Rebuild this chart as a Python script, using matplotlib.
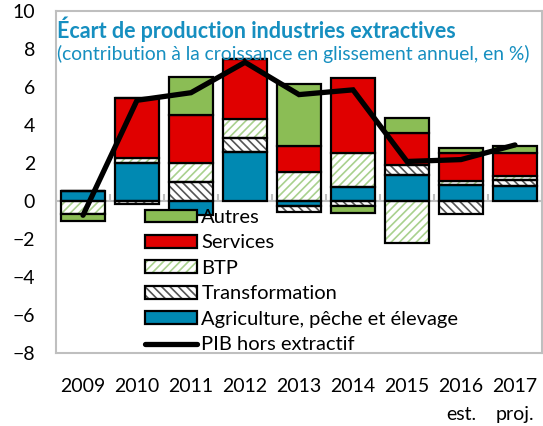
import matplotlib
matplotlib.use("Agg")
import matplotlib.pyplot as plt
from matplotlib.patches import Patch
from matplotlib.lines import Line2D
from matplotlib.legend_handler import HandlerTuple
import numpy as np

plt.rcParams['font.family'] = ['Lato', 'DejaVu Sans']
plt.rcParams['hatch.linewidth'] = 1.2

categories = ['2009', '2010', '2011', '2012', '2013', '2014', '2015', '2016\nest.', '2017\nproj.']
agriculture = [0.5, 2.0, -0.75, 2.6, -0.27, 0.72, 1.38, 0.85, 0.8]
transformation = [0.0, -0.15, 1.0, 0.7, -0.33, -0.27, 0.52, -0.68, 0.28]
btp = [-0.68, 0.27, 1.0, 1.0, 1.5, 1.78, -2.2, 0.22, 0.22]
services = [0.0, 3.13, 2.5, 3.15, 1.4, 3.95, 1.7, 1.45, 1.25]
autres = [-0.37, 0.0, 2.0, 0.0, 3.25, -0.35, 0.75, 0.25, 0.35]
pib_hors_extractif = [-0.75, 5.3, 5.7, 7.3, 5.6, 5.85, 2.08, 2.18, 2.95]

series = [
    ('Agriculture, pêche et élevage', agriculture),
    ('Transformation', transformation),
    ('BTP', btp),
    ('Services', services),
    ('Autres', autres),
]
styles = {
    'Agriculture, pêche et élevage': dict(color='#0089B2', hatch=None, hc=None),
    'Transformation': dict(color='white', hatch='\\\\\\\\', hc='#555555'),
    'BTP': dict(color='white', hatch='////', hc='#A9D18E'),
    'Services': dict(color='#E00000', hatch=None, hc=None),
    'Autres': dict(color='#8BBD55', hatch=None, hc=None),
}

W, H = 543, 426
fig = plt.figure(figsize=(W / 100, H / 100), dpi=100)
ax = fig.add_axes([56 / W, 1 - 353 / H, 486 / W, 342 / H])

x = np.arange(len(categories))
pos_base = np.zeros(len(categories))
neg_base = np.zeros(len(categories))
bw = 0.82
for name, vals in series:
    v = np.array(vals, dtype=float)
    bottoms = np.where(v >= 0, pos_base, neg_base)
    st = styles[name]
    if st['hatch']:
        ax.bar(x, v, bw, bottom=bottoms, color=st['color'], hatch=st['hatch'],
               edgecolor=st['hc'], linewidth=0, zorder=2)
        ax.bar(x, v, bw, bottom=bottoms, fill=False, edgecolor='black',
               linewidth=1.6, zorder=3)
    else:
        ax.bar(x, v, bw, bottom=bottoms, color=st['color'], edgecolor='black',
               linewidth=1.6, zorder=3)
    pos_base = pos_base + np.where(v >= 0, v, 0)
    neg_base = neg_base + np.where(v < 0, v, 0)

ax.plot(x, pib_hors_extractif, color='black', linewidth=3.8, zorder=5,
        solid_capstyle='round', solid_joinstyle='miter')

# zero line and boundary tick marks
ax.axhline(0, color='#BFBFBF', linewidth=1.5, zorder=1)
bounds = np.arange(len(categories) + 1) - 0.5
ax.vlines(bounds, 0, 0.35, color='#BFBFBF', linewidth=1.5, zorder=1)

ax.set_xlim(-0.5, len(categories) - 0.5)
ax.set_ylim(-8, 10)
ax.set_yticks(np.arange(-8, 11, 2))
ax.set_xticks(x)
ax.set_xticklabels(categories, fontsize=14, ha='center', multialignment='center',
                   linespacing=1.8)
ax.tick_params(axis='x', length=0, pad=18)
ax.tick_params(axis='y', length=0, pad=15, labelsize=14)
for sp in ax.spines.values():
    sp.set_color('#BFBFBF')
    sp.set_linewidth(1.5)

title_color = '#168FC0'
fig.text(57 / W, 1 - 29 / H, 'Écart de production industries extractives',
         fontsize=15.5, fontweight='bold', color=title_color, va='center', ha='left')
fig.text(57 / W, 1 - 54 / H, '(contribution à la croissance en glissement annuel, en %)',
         fontsize=13.9, color=title_color, va='center', ha='left')

handles = []
labels = []
for name in ['Autres', 'Services', 'BTP', 'Transformation', 'Agriculture, pêche et élevage']:
    st = styles[name]
    if st['hatch']:
        h = (Patch(facecolor='white', edgecolor=st['hc'], hatch=st['hatch'], linewidth=0),
             Patch(facecolor='none', edgecolor='black', linewidth=1.6))
    else:
        h = Patch(facecolor=st['color'], edgecolor='black', linewidth=1.6)
    handles.append(h)
    labels.append(name)
handles.append(Line2D([], [], color='black', linewidth=3.8, solid_capstyle='round'))
labels.append('PIB hors extractif')

leg = ax.legend(handles, labels, loc='upper left',
                bbox_to_anchor=(145 / W, 1 - 209 / H), bbox_transform=fig.transFigure,
                frameon=False, fontsize=14.5, handlelength=2.6, handleheight=0.6,
                handletextpad=0.2, labelspacing=0.42, borderpad=0, borderaxespad=0,
                handler_map={tuple: HandlerTuple(ndivide=1, pad=0)})
leg.set_zorder(6)

fig.savefig('out.png', dpi=100)
